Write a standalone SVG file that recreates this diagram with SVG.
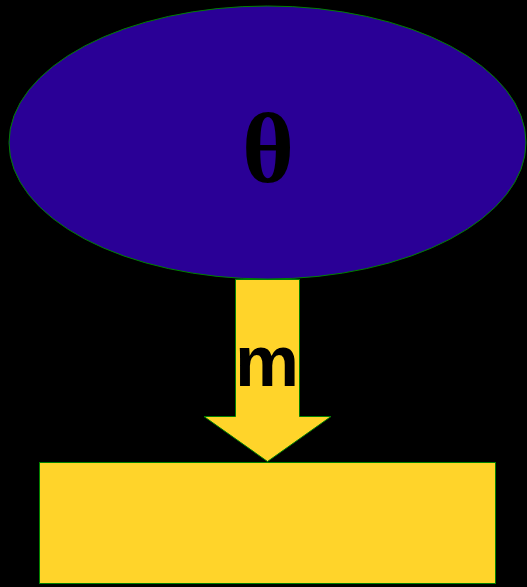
<svg xmlns="http://www.w3.org/2000/svg" width="527" height="587" viewBox="0 0 527 587">
<style>
.shape{stroke:#008000;stroke-width:1}
.yel{fill:#ffd42a}
</style>
<rect x="0" y="0" width="527" height="587" fill="#000"/>
<g id="node-theta">
<ellipse class="shape" cx="267.5" cy="142.5" rx="258.5" ry="136.5" fill="#2a0096"/>
<text x="268" y="182" text-anchor="middle" font-family="Liberation Serif, serif" font-weight="bold" font-size="100" fill="#000">θ</text>
</g>
<g id="node-box">
<rect class="shape yel" x="39.5" y="462.5" width="456" height="121"/>
</g>
<g id="connectors">
<polygon class="shape yel" points="235.5,279.5 299.5,279.5 299.5,416.5 331,416.5 267.5,461.5 204,416.5 235.5,416.5"/>
<text x="267" y="386" text-anchor="middle" font-family="Liberation Sans, Arial, sans-serif" font-weight="bold" font-size="72" fill="#000">m</text>
</g>
</svg>
